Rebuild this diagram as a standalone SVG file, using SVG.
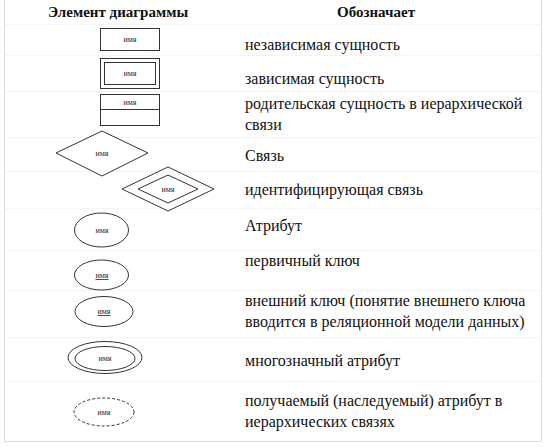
<svg xmlns="http://www.w3.org/2000/svg" width="546" height="447" viewBox="0 0 546 447">
<rect width="546" height="447" fill="#fff"/>
<g id="table" fill="none">
<path stroke="#dcdcdc" d="M4.5 0 V441.5 H541.5 V0"/>
<path stroke="#f4f4f4" d="M5 24.5 H541 M5 55.5 H541 M5 91.5 H541 M5 137.5 H541 M5 171.5 H541 M5 208.5 H541 M5 250.5 H541 M5 290.5 H541 M5 337.5 H541 M5 381.5 H541"/>
</g>
<g id="headers">
<text x="118" y="17" font-family="Liberation Serif" font-size="15" font-weight="bold" text-anchor="middle" fill="#111">Элемент диаграммы</text>
<text x="376" y="17" font-family="Liberation Serif" font-size="15" font-weight="bold" text-anchor="middle" fill="#111">Обозначает</text>
</g>
<g fill="#fff" stroke="#333">
<g id="n-independent"><rect x="100.5" y="28.5" width="59" height="22"/></g>
<g id="n-dependent"><rect x="100.5" y="58.5" width="59" height="30"/><rect x="104.5" y="62.5" width="51" height="22"/></g>
<g id="n-parent"><rect x="100.5" y="94.5" width="59" height="31"/><line x1="100.5" y1="109.5" x2="159.5" y2="109.5"/></g>
<g id="n-relationship"><polygon points="56,153 102,131 148,153 102,176"/></g>
<g id="n-identifying"><polygon points="122,189 168,167 214,189 168,211"/><polygon points="138,189 168,175 198,189 168,203"/></g>
<g id="n-attribute"><ellipse cx="101.5" cy="230" rx="27" ry="17"/></g>
<g id="n-pk"><ellipse cx="101.5" cy="275" rx="27" ry="15"/></g>
<g id="n-fk"><ellipse cx="104" cy="311.5" rx="29" ry="15"/></g>
<g id="n-multivalued"><ellipse cx="105" cy="357.5" rx="37" ry="16"/><ellipse cx="105" cy="358.5" rx="30" ry="12"/></g>
<g id="n-derived"><ellipse cx="104" cy="412" rx="30" ry="14" stroke-dasharray="3,2"/></g>
</g>
<g id="labels">
<text x="130" y="42" font-family="Liberation Serif" font-size="8" text-anchor="middle" fill="#222">имя</text>
<text x="130" y="76" font-family="Liberation Serif" font-size="8" text-anchor="middle" fill="#222">имя</text>
<text x="130" y="105" font-family="Liberation Serif" font-size="8" text-anchor="middle" fill="#222">имя</text>
<text x="102" y="156" font-family="Liberation Serif" font-size="8" text-anchor="middle" fill="#222">имя</text>
<text x="168" y="192" font-family="Liberation Serif" font-size="8" text-anchor="middle" fill="#222">имя</text>
<text x="102" y="233" font-family="Liberation Serif" font-size="8" text-anchor="middle" fill="#222">имя</text>
<text x="102" y="278" font-family="Liberation Serif" font-size="8" text-anchor="middle" fill="#222" text-decoration="underline">имя</text>
<text x="104" y="314" font-family="Liberation Serif" font-size="8" text-anchor="middle" fill="#222" text-decoration="underline">имя</text>
<text x="105" y="361" font-family="Liberation Serif" font-size="8" text-anchor="middle" fill="#222">имя</text>
<text x="104" y="415" font-family="Liberation Serif" font-size="8" text-anchor="middle" fill="#222">имя</text>
</g>
<g id="connectors"></g>
<g id="descriptions">
<text x="245" y="50" font-family="Liberation Serif" font-size="16" fill="#111">независимая сущность</text>
<text x="245" y="84" font-family="Liberation Serif" font-size="16" fill="#111">зависимая сущность</text>
<text x="245" y="109" font-family="Liberation Serif" font-size="16" fill="#111">родительская сущность в иерархической</text>
<text x="245" y="130" font-family="Liberation Serif" font-size="16" fill="#111">связи</text>
<text x="245" y="161" font-family="Liberation Serif" font-size="16" fill="#111">Связь</text>
<text x="245" y="195" font-family="Liberation Serif" font-size="16" fill="#111">идентифицирующая связь</text>
<text x="245" y="231" font-family="Liberation Serif" font-size="16" fill="#111">Атрибут</text>
<text x="245" y="266" font-family="Liberation Serif" font-size="16" fill="#111">первичный ключ</text>
<text x="245" y="306" font-family="Liberation Serif" font-size="16" fill="#111">внешний ключ (понятие внешнего ключа</text>
<text x="245" y="327" font-family="Liberation Serif" font-size="16" fill="#111">вводится в реляционной модели данных)</text>
<text x="245" y="366" font-family="Liberation Serif" font-size="16" fill="#111">многозначный атрибут</text>
<text x="245" y="406" font-family="Liberation Serif" font-size="16" fill="#111">получаемый (наследуемый) атрибут в</text>
<text x="245" y="427" font-family="Liberation Serif" font-size="16" fill="#111">иерархических связях</text>
</g>
</svg>
